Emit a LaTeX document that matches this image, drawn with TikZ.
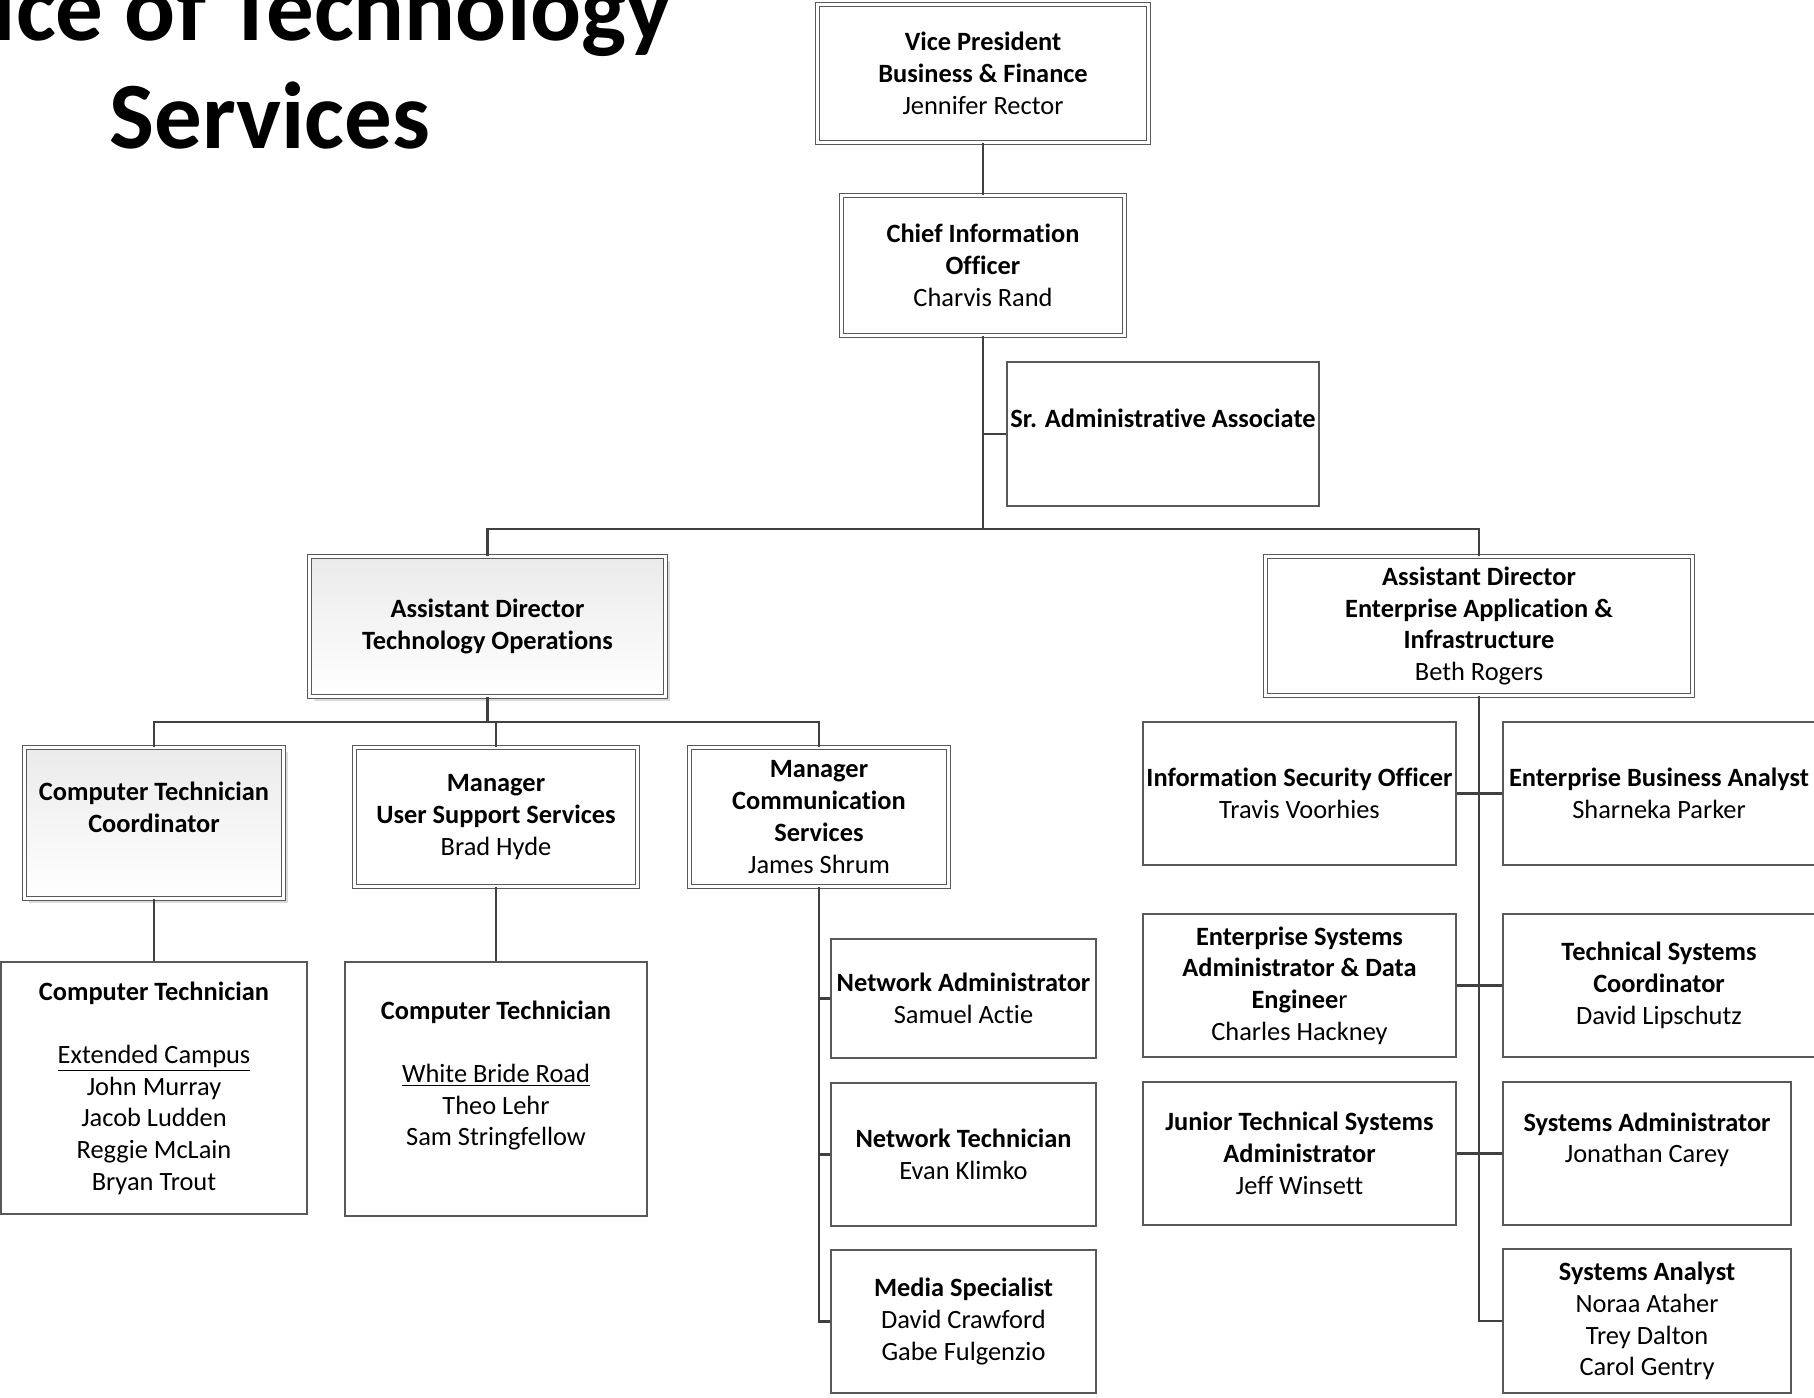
\documentclass[tikz,border=0pt]{standalone}
\usepackage{fontspec}
\setmainfont{Carlito}[Ligatures=NoCommon]
\usetikzlibrary{shadows}
\begin{document}
\begin{tikzpicture}[x=0.5pt,y=-0.5pt]
\tikzset{orgbox/.style={draw=black!65, line width=0.6pt, fill=white, inner sep=0pt, align=center, font=\fontsize{13.2}{15.85}\selectfont},
dblbox/.style={orgbox, double=white, double distance=1.6pt, line width=0.45pt},
greybox/.style={dblbox, top color=black!8, bottom color=white, drop shadow={shadow xshift=2pt, shadow yshift=-2pt, fill=black!14, opacity=1}},
link/.style={draw=black!75, line width=1.25pt}}
\useasboundingbox (0,0) rectangle (1814,1397);
\clip (0,0) rectangle (1814,1397);
\node[font=\fontsize{47.5}{54}\selectfont\bfseries, align=center, anchor=base] (title) at (270,148) {Office of Technology\\Services};
\node[dblbox, minimum width=165.5pt, minimum height=69pt] (VP) at (983,73.5) {\textbf{Vice President}\\\textbf{Business \& Finance}\\Jennifer Rector};
\node[dblbox, minimum width=141.5pt, minimum height=70pt] (CIO) at (983,265.5) {\textbf{Chief Information}\\\textbf{Officer}\\Charvis Rand};
\node[orgbox, minimum width=156pt, minimum height=72pt] (SAA) at (1163,434) {\textbf{Sr. Administrative Associate}\\\mbox{}};
\node[greybox, minimum width=178pt, minimum height=70pt] (ADT) at (487.5,626.5) {\textbf{Assistant Director}\\\textbf{Technology Operations}};
\node[dblbox, minimum width=213.5pt, minimum height=69.5pt] (ADE) at (1479,626) {\textbf{Assistant Director}\\\textbf{Enterprise Application \&}\\\textbf{Infrastructure}\\Beth Rogers};
\node[greybox, minimum width=129.5pt, minimum height=75.5pt] (CTC) at (154,823) {\textbf{Computer Technician}\\\textbf{Coordinator}\\\mbox{}};
\node[dblbox, minimum width=141.5pt, minimum height=69.5pt] (USS) at (496,817) {\textbf{Manager}\\\textbf{User Support Services}\\Brad Hyde};
\node[dblbox, minimum width=129.5pt, minimum height=69.5pt] (COM) at (819,817) {\textbf{Manager}\\\textbf{Communication}\\\textbf{Services}\\James Shrum};
\node[orgbox, minimum width=153pt, minimum height=126pt] (CT1) at (154,1088) {\textbf{Computer Technician}\\\mbox{}\\\underline{Extended Campus}\\John Murray\\Jacob Ludden\\Reggie McLain\\Bryan Trout};
\node[orgbox, minimum width=151pt, minimum height=127pt] (CT2) at (496,1089) {\textbf{Computer Technician}\\\mbox{}\\\underline{White Bride Road}\\Theo Lehr\\Sam Stringfellow\\\mbox{}};
\node[orgbox, minimum width=132.5pt, minimum height=59.5pt] (NA) at (963.5,998.5) {\textbf{Network Administrator}\\Samuel Actie};
\node[orgbox, minimum width=132.5pt, minimum height=71.5pt] (NT) at (963.5,1154.5) {\textbf{Network Technician}\\Evan Klimko};
\node[orgbox, minimum width=132.5pt, minimum height=71.5pt] (MS) at (963.5,1321.5) {\textbf{Media Specialist}\\David Crawford\\Gabe Fulgenzio};
\node[orgbox, minimum width=156.5pt, minimum height=71.5pt] (ISO) at (1299.5,793.5) {\textbf{Information Security Officer}\\Travis Voorhies};
\node[orgbox, minimum width=156pt, minimum height=71.5pt] (EBA) at (1659,793.5) {\textbf{Enterprise Business Analyst}\\Sharneka Parker};
\node[orgbox, minimum width=156.5pt, minimum height=71.5pt] (ESA) at (1299.5,985.5) {\textbf{Enterprise Systems}\\\textbf{Administrator \& Data}\\\textbf{Enginee}r\\Charles Hackney};
\node[orgbox, minimum width=156pt, minimum height=71.5pt] (TSC) at (1659,985.5) {\textbf{Technical Systems}\\\textbf{Coordinator}\\David Lipschutz};
\node[orgbox, minimum width=156.5pt, minimum height=71.5pt] (JTS) at (1299.5,1153.5) {\textbf{Junior Technical Systems}\\\textbf{Administrator}\\Jeff Winsett};
\node[orgbox, minimum width=144pt, minimum height=71.5pt] (SAD) at (1647,1153.5) {\textbf{Systems Administrator}\\Jonathan Carey\\\mbox{}};
\node[orgbox, minimum width=144pt, minimum height=72pt] (SAN) at (1647,1321) {\textbf{Systems Analyst}\\Noraa Ataher\\Trey Dalton\\Carol Gentry};
\coordinate (B1) at (983,529);
\coordinate (B2) at (487.5,722);
\draw[link] (VP) -- (CIO);
\draw[link] (CIO) -- (B1);
\draw[link] (SAA.west) -- (SAA.west -| B1);
\draw[link] (ADT.north) |- (B1) -| (ADE.north);
\draw[link] (ADT) -- (B2);
\draw[link] (CTC.north) |- (B2) -| (COM.north);
\draw[link] (USS.north) -- (USS.north |- B2);
\draw[link] (CTC) -- (CT1);
\draw[link] (USS) -- (CT2);
\draw[link] (COM.south) |- (MS.west);
\draw[link] (NA.west) -- (NA.west -| COM.south);
\draw[link] (NT.west) -- (NT.west -| COM.south);
\draw[link] (ADE.south) |- (SAN.west);
\draw[link] (ISO.east) -- (EBA.west);
\draw[link] (ESA.east) -- (TSC.west);
\draw[link] (JTS.east) -- (SAD.west);
\end{tikzpicture}
\end{document}
